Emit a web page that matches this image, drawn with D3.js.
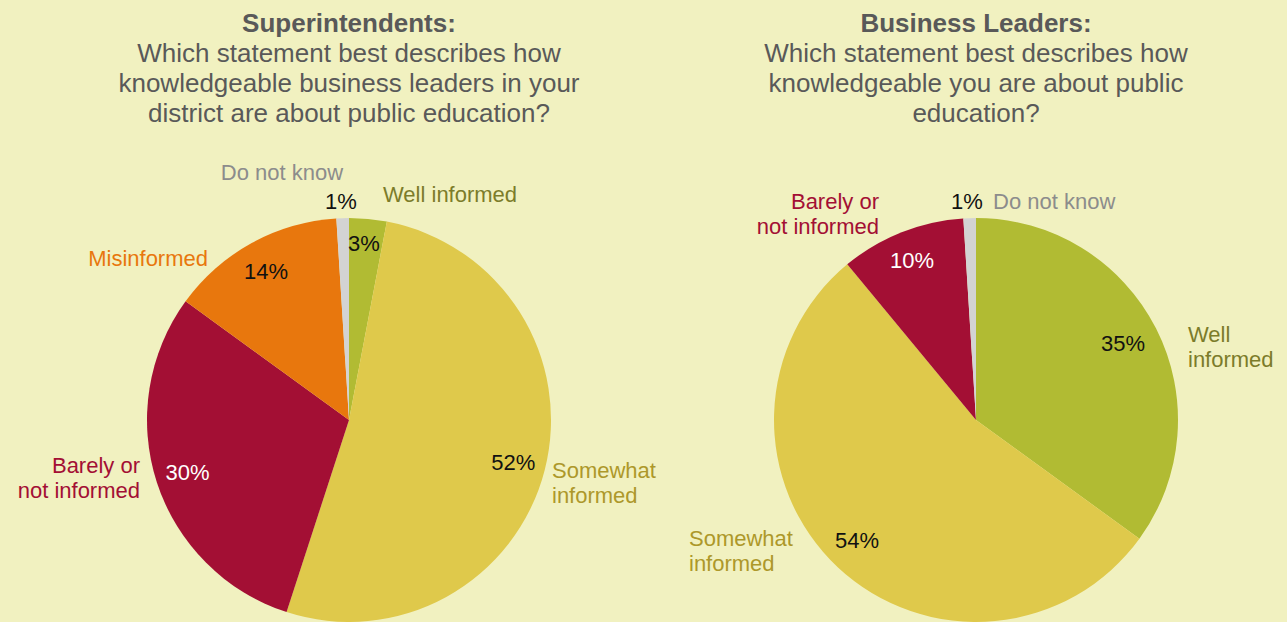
<!DOCTYPE html>
<html><head><meta charset="utf-8">
<script src="https://cdn.jsdelivr.net/npm/d3@7/dist/d3.min.js"></script>
<style>
html,body{margin:0;padding:0;background:#f1f1c0;}
svg{display:block;}
</style></head><body>
<svg id="c" width="1287" height="622"></svg>
<script>
const leftCategories = ["Well informed","Somewhat informed","Barely or not informed","Misinformed","Do not know"];
const leftValues = [3,52,30,14,1];
const rightCategories = ["Well informed","Somewhat informed","Barely or not informed","Do not know"];
const rightValues = [35,54,10,1];
const leftTitle = ["Superintendents:","Which statement best describes how","knowledgeable business leaders in your","district are about public education?"];
const rightTitle = ["Business Leaders:","Which statement best describes how","knowledgeable you are about public","education?"];

const sliceColor = d3.scaleOrdinal()
  .domain(["Well informed","Somewhat informed","Barely or not informed","Misinformed","Do not know"])
  .range(["#b1bb33","#dfc94b","#a30f34","#e8770d","#d3d3d3"]);
const textColor = d3.scaleOrdinal()
  .domain(["Well informed","Somewhat informed","Barely or not informed","Misinformed","Do not know"])
  .range(["#7c7c2a","#ad982a","#a30f34","#e8770d","#8c8c8c"]);
const pctColor = d3.scaleOrdinal()
  .domain(["Well informed","Somewhat informed","Barely or not informed","Misinformed","Do not know"])
  .range(["#111","#111","#fff","#111","#111"]);

const svg = d3.select("#c");
const R = 202;
const titleFont = "'Liberation Sans',Arial,sans-serif";
const bodyFont = "'Liberation Sans',Arial,sans-serif";
const FS = 22;

function drawPie(cx, cy, cats, vals, title, outer) {
  const g = svg.append("g").attr("transform", `translate(${cx},${cy})`);
  const pie = d3.pie().sort(null).value(d => d.v);
  const data = pie(cats.map((c,i)=>({c, v: vals[i]})));
  const arc = d3.arc().innerRadius(0).outerRadius(R);
  const labArc = d3.arc().innerRadius(R*0.84).outerRadius(R*0.84);
  g.selectAll("path").data(data).join("path")
    .attr("d", arc).attr("fill", d => sliceColor(d.data.c));
  g.selectAll("text.pct").data(data).join("text")
    .attr("class","pct")
    .attr("transform", d => {
      const o = outer[d.data.c];
      const p = o.pct ? o.pct : labArc.centroid(d);
      return `translate(${p[0]},${p[1]})`;
    })
    .attr("text-anchor","middle").attr("dy","0.35em")
    .attr("font-family", bodyFont).attr("font-size", FS)
    .attr("fill", d => pctColor(d.data.c))
    .text(d => d.data.v + "%");
  data.forEach(d => {
    const o = outer[d.data.c];
    const t = g.append("text")
      .attr("font-family", bodyFont).attr("font-size", FS)
      .attr("fill", textColor(d.data.c))
      .attr("text-anchor", o.anchor);
    o.lines.forEach((ln, i) => {
      t.append("tspan").attr("x", o.x).attr("y", o.y + i*25).attr("dy","0.35em").text(ln);
    });
  });
  const tt = svg.append("text").attr("text-anchor","middle").attr("fill","#595959")
    .attr("font-family", titleFont).attr("font-size", 26);
  title.forEach((ln, i) => {
    tt.append("tspan").attr("x", cx).attr("y", 23 + i*30).attr("dy","0.35em")
      .attr("font-weight", i === 0 ? "bold" : "normal").text(ln);
  });
}

drawPie(349, 420, leftCategories, leftValues, leftTitle, {
  "Well informed": {lines:["Well informed"], x:34, y:-226, anchor:"start", pct:[15,-177]},
  "Somewhat informed": {lines:["Somewhat","informed"], x:203, y:50, anchor:"start"},
  "Barely or not informed": {lines:["Barely or","not informed"], x:-209, y:45, anchor:"end"},
  "Misinformed": {lines:["Misinformed"], x:-141, y:-162, anchor:"end", pct:[-83,-149]},
  "Do not know": {lines:["Do not know"], x:-67, y:-248, anchor:"middle", pct:[-8,-219]}
});
drawPie(976, 420, rightCategories, rightValues, rightTitle, {
  "Well informed": {lines:["Well","informed"], x:212, y:-86, anchor:"start", pct:[147,-77]},
  "Somewhat informed": {lines:["Somewhat","informed"], x:-287, y:118, anchor:"start", pct:[-119,120]},
  "Barely or not informed": {lines:["Barely or","not informed"], x:-97, y:-219, anchor:"end", pct:[-64,-160]},
  "Do not know": {lines:["Do not know"], x:17, y:-219, anchor:"start", pct:[-9,-219]}
});
</script>
</body></html>
